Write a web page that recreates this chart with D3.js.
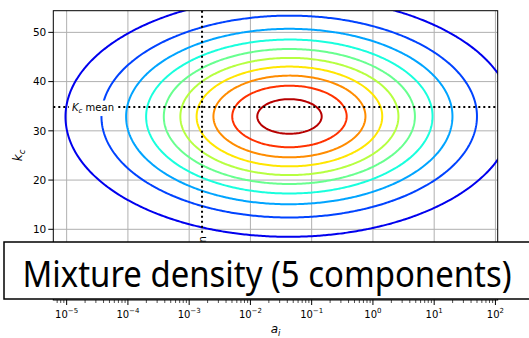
<!DOCTYPE html>
<html>
<head>
<meta charset="utf-8">
<script src="https://cdn.jsdelivr.net/npm/d3@7"></script>
<style>
  body { margin: 0; background: #fff; }
  text { font-family: "DejaVu Sans", sans-serif; }
</style>
</head>
<body>
<div id="plot"></div>
<script>
// Mixture components (in log10(a_i), k_c space)
const compWeight = [0.22, 0.20, 0.20, 0.19, 0.19];
const compMeanLogA = [-1.25, -1.50, -1.35, -1.45, -1.30];
const compMeanK = [33.4, 32.3, 33.2, 32.6, 32.9];
const compSdLogA = [1.65, 1.72, 1.66, 1.70, 1.68];
const compSdK = [11.0, 11.5, 11.1, 11.4, 11.3];

// Contour levels
const levels = [0.0008, 0.0016, 0.0024, 0.0032, 0.0040, 0.0048, 0.0056, 0.0064, 0.0072, 0.0080];

// Mean markers
const meanA = Math.pow(10, -2.79);
const meanK = 34.83;

// Ticks
const xTickExps = [-5, -4, -3, -2, -1, 0, 1, 2];
const yTicks = [10, 20, 30, 40, 50];

const title = "Mixture density (5 components)";

// Chart dimensions and setup
const width = 529;
const height = 338;
const pLeft = 53.3, pRight = 497.7, pTop = 10.7, pBottom = 300;

const svg = d3.select("#plot")
  .append("svg")
  .attr("width", width)
  .attr("height", height);

const x = d3.scaleLog()
  .domain([Math.pow(10, -5.218), Math.pow(10, 2.037)])
  .range([pLeft, pRight]);

const y = d3.scaleLinear()
  .domain([-4.36, 54.4])
  .range([pBottom, pTop]);

// matplotlib "jet" colormap
const jetR = d3.scaleLinear().domain([0, 0.35, 0.66, 0.89, 1]).range([0, 0, 1, 1, 0.5]).clamp(true);
const jetG = d3.scaleLinear().domain([0, 0.125, 0.375, 0.64, 0.91, 1]).range([0, 0, 1, 1, 0, 0]).clamp(true);
const jetB = d3.scaleLinear().domain([0, 0.11, 0.34, 0.65, 1]).range([0.5, 1, 1, 0, 0]).clamp(true);
const jet = t => d3.rgb(jetR(t) * 255, jetG(t) * 255, jetB(t) * 255).toString();
const levelColor = d3.scaleLinear().domain([0, 0.0084]).range([0, 1]);

svg.append("defs").append("clipPath")
  .attr("id", "clip")
  .append("rect")
  .attr("x", pLeft).attr("y", pTop)
  .attr("width", pRight - pLeft).attr("height", pBottom - pTop);

// Grid lines
const grid = svg.append("g");
grid.selectAll("line.gx")
  .data(xTickExps)
  .enter()
  .append("line")
  .attr("x1", d => x(Math.pow(10, d)))
  .attr("x2", d => x(Math.pow(10, d)))
  .attr("y1", pTop).attr("y2", pBottom)
  .attr("stroke", "#b0b0b0").attr("stroke-width", 1);
grid.selectAll("line.gy")
  .data(yTicks)
  .enter()
  .append("line")
  .attr("x1", pLeft).attr("x2", pRight)
  .attr("y1", d => y(d)).attr("y2", d => y(d))
  .attr("stroke", "#b0b0b0").attr("stroke-width", 1);

// Density grid
const la0 = -7.5, dla = 0.03, nx = 400;
const k0 = -15, dk = 0.25, ny = 380;
const values = new Float64Array(nx * ny);
for (let j = 0; j < ny; j++) {
  const k = k0 + j * dk;
  for (let i = 0; i < nx; i++) {
    const la = la0 + i * dla;
    let s = 0;
    for (let c = 0; c < compWeight.length; c++) {
      const u = (la - compMeanLogA[c]) / compSdLogA[c];
      const v = (k - compMeanK[c]) / compSdK[c];
      s += compWeight[c] * Math.exp(-0.5 * (u * u + v * v)) / (2 * Math.PI * compSdLogA[c] * compSdK[c]);
    }
    values[j * nx + i] = s;
  }
}

const contours = d3.contours().size([nx, ny]).thresholds(levels)(values);

const toScreen = d3.geoTransform({
  point: function(px, py) {
    this.stream.point(
      x(Math.pow(10, la0 + (px - 0.5) * dla)),
      y(k0 + (py - 0.5) * dk)
    );
  }
});
const path = d3.geoPath(toScreen);

svg.append("g")
  .attr("clip-path", "url(#clip)")
  .selectAll("path")
  .data(contours)
  .enter()
  .append("path")
  .attr("d", path)
  .attr("fill", "none")
  .attr("stroke", d => jet(levelColor(d.value)))
  .attr("stroke-width", 2);

// Mean lines
svg.append("line")
  .attr("x1", pLeft).attr("x2", pRight)
  .attr("y1", y(meanK)).attr("y2", y(meanK))
  .attr("stroke", "#000").attr("stroke-width", 2)
  .attr("stroke-dasharray", "2,3");
svg.append("line")
  .attr("x1", x(meanA)).attr("x2", x(meanA))
  .attr("y1", pTop).attr("y2", pBottom)
  .attr("stroke", "#000").attr("stroke-width", 2)
  .attr("stroke-dasharray", "2,3");

// Mean labels with white boxes
function meanLabel(cx, cy, rotate, sym, sub) {
  const lg = svg.append("g")
    .attr("transform", `translate(${cx},${cy}) rotate(${rotate})`);
  const bg = lg.append("rect").attr("fill", "#fff");
  const t = lg.append("text")
    .attr("text-anchor", "middle")
    .attr("dy", "0.35em")
    .style("font-size", "10px");
  t.append("tspan").style("font-style", "italic").text(sym);
  t.append("tspan").style("font-style", "italic").style("font-size", "7px").attr("dy", "2.5").text(sub);
  t.append("tspan").attr("dy", "-2.5").text(" mean");
  const bb = t.node().getBBox();
  bg.attr("x", bb.x - 3).attr("y", bb.y - 1).attr("width", bb.width + 6).attr("height", bb.height + 2);
}
meanLabel(93, y(meanK), 0, "K", "c");
meanLabel(x(meanA), 256, -90, "a", "i");

// Spines
svg.append("rect")
  .attr("x", pLeft).attr("y", pTop)
  .attr("width", pRight - pLeft).attr("height", pBottom - pTop)
  .attr("fill", "none").attr("stroke", "#000").attr("stroke-width", 1);

// Y axis
const yAxis = svg.append("g");
yAxis.selectAll("line")
  .data(yTicks)
  .enter()
  .append("line")
  .attr("x1", pLeft - 5).attr("x2", pLeft)
  .attr("y1", d => y(d)).attr("y2", d => y(d))
  .attr("stroke", "#000");
yAxis.selectAll("text")
  .data(yTicks)
  .enter()
  .append("text")
  .attr("x", pLeft - 7)
  .attr("y", d => y(d))
  .attr("dy", "0.35em")
  .attr("text-anchor", "end")
  .style("font-size", "10.5px")
  .text(d => d);

// X axis (log, with minor ticks)
const xAxis = svg.append("g");
const minor = [];
for (let e = -6; e <= 2; e++) {
  for (let m = 2; m <= 9; m++) {
    const v = m * Math.pow(10, e);
    if (v >= x.domain()[0] && v <= x.domain()[1]) minor.push(v);
  }
}
xAxis.selectAll("line.minor")
  .data(minor)
  .enter()
  .append("line")
  .attr("x1", d => x(d)).attr("x2", d => x(d))
  .attr("y1", pBottom).attr("y2", pBottom + 3)
  .attr("stroke", "#000").attr("stroke-width", 0.7);
xAxis.selectAll("line.major")
  .data(xTickExps)
  .enter()
  .append("line")
  .attr("x1", d => x(Math.pow(10, d))).attr("x2", d => x(Math.pow(10, d)))
  .attr("y1", pBottom).attr("y2", pBottom + 5)
  .attr("stroke", "#000");
const xt = xAxis.selectAll("text")
  .data(xTickExps)
  .enter()
  .append("text")
  .attr("x", d => x(Math.pow(10, d)))
  .attr("y", 318)
  .attr("text-anchor", "middle")
  .style("font-size", "10px");
xt.append("tspan").text("10");
xt.append("tspan")
  .attr("dy", -5)
  .style("font-size", "7px")
  .text(d => String(d).replace("-", "\u2212"));

// Axis labels
const xl = svg.append("text")
  .attr("x", (pLeft + pRight) / 2)
  .attr("y", 333)
  .attr("text-anchor", "middle")
  .style("font-size", "12px")
  .style("font-style", "italic");
xl.append("tspan").text("a");
xl.append("tspan").attr("dy", 3).style("font-size", "8.5px").text("i");

const yl = svg.append("text")
  .attr("transform", `translate(22,${(pTop + pBottom) / 2}) rotate(-90)`)
  .attr("text-anchor", "middle")
  .style("font-size", "12px")
  .style("font-style", "italic");
yl.append("tspan").text("k");
yl.append("tspan").attr("dy", 3).style("font-size", "8.5px").text("c");

// Title box over the lower part of the plot
svg.append("rect")
  .attr("x", 4).attr("y", 242)
  .attr("width", 540).attr("height", 57)
  .attr("fill", "#fff")
  .attr("stroke", "#000")
  .attr("stroke-width", 1.5);
svg.append("text")
  .attr("x", 267)
  .attr("y", 287)
  .attr("text-anchor", "middle")
  .attr("textLength", 489)
  .attr("lengthAdjust", "spacingAndGlyphs")
  .style("font-family", "'Noto Sans', sans-serif")
  .style("font-size", "37px")
  .text(title);
</script>
</body>
</html>
